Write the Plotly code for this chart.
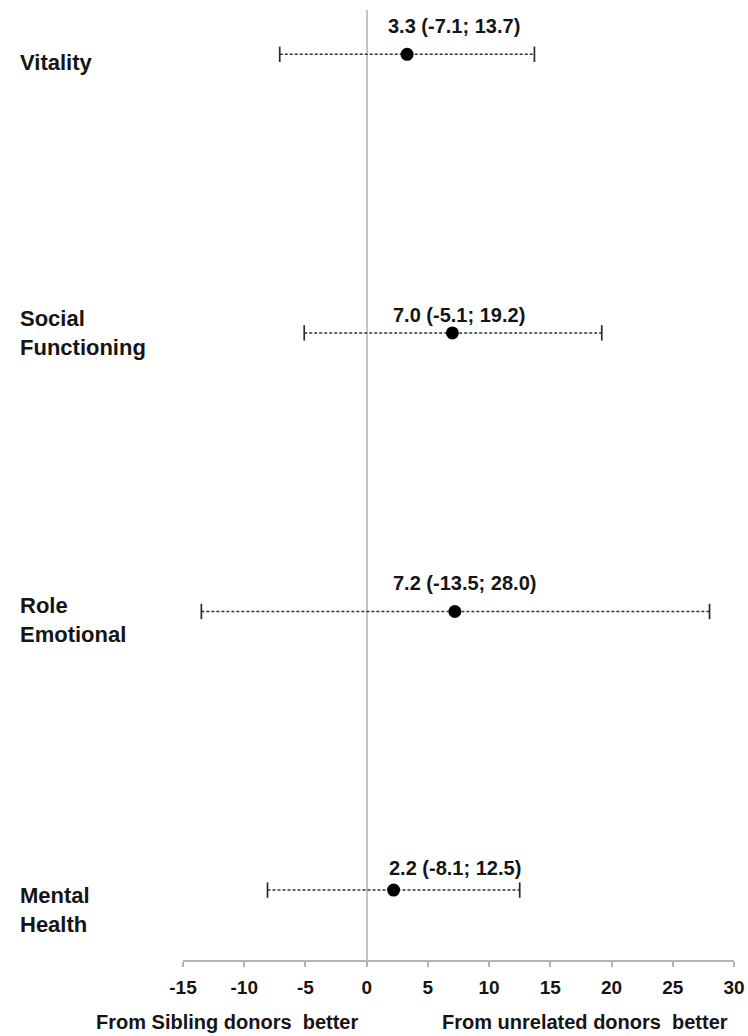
import plotly.graph_objects as go

# ---- data ----
outcomes = ["Vitality", "Social<br>Functioning", "Role<br>Emotional", "Mental<br>Health"]
row_pos = [4, 3, 2, 1]
estimate = [3.3, 7.0, 7.2, 2.2]
ci_low = [-7.1, -5.1, -13.5, -8.1]
ci_high = [13.7, 19.2, 28.0, 12.5]
tick_vals = [-15, -10, -5, 0, 5, 10, 15, 20, 25, 30]
tick_text = ["-15", "-10", "-5", "0", "5", "10", "15", "20", "25", "30"]
left_note = "From Sibling donors\u00a0 better"
right_note = "From unrelated donors\u00a0 better"

# ---- layout tweaks (pixel offsets, not data) ----
value_label_x = [1.6, 2.0, 2.0, 1.7]
value_label_shift = [28, 18, 28, 22]
name_label_shift = [-8, 0, -9, -20]

FONT = "Liberation Sans, Arial, Helvetica, sans-serif"
TXT = "#151515"

fig = go.Figure()

for i in range(len(outcomes)):
    fig.add_trace(go.Scatter(
        x=[ci_low[i], ci_high[i]], y=[row_pos[i], row_pos[i]],
        mode="lines+markers",
        line=dict(color="#333333", width=1.5, dash="3px,2px"),
        marker=dict(symbol="line-ns", size=11,
                    line=dict(color="#2a2a2a", width=1.7)),
        showlegend=False, hoverinfo="skip",
    ))

fig.add_trace(go.Scatter(
    x=estimate, y=row_pos, mode="markers",
    marker=dict(symbol="circle", size=13, color="#000000"),
    showlegend=False,
))

annotations = []
for i in range(len(outcomes)):
    annotations.append(dict(
        x=value_label_x[i], y=row_pos[i], xref="x", yref="y",
        text=f"{estimate[i]:.1f} ({ci_low[i]:.1f}; {ci_high[i]:.1f})",
        showarrow=False, xanchor="left", yanchor="middle",
        yshift=value_label_shift[i],
        font=dict(family=FONT, size=20, color=TXT, weight=700),
    ))
    annotations.append(dict(
        x=(18 - 183) / 551, y=row_pos[i], xref="paper", yref="y",
        text=outcomes[i], align="left",
        showarrow=False, xanchor="left", yanchor="middle",
        yshift=name_label_shift[i],
        font=dict(family=FONT, size=22, color=TXT, weight=700),
    ))

annotations.append(dict(
    x=(93.7 - 183) / 551, y=(960 - 1021.7) / 950, xref="paper", yref="paper",
    text=left_note, showarrow=False, xanchor="left", yanchor="middle",
    font=dict(family=FONT, size=20, color=TXT, weight=700),
))
annotations.append(dict(
    x=(440 - 183) / 551, y=(960 - 1021.7) / 950, xref="paper", yref="paper",
    text=right_note, showarrow=False, xanchor="left", yanchor="middle",
    font=dict(family=FONT, size=20, color=TXT, weight=700),
))

fig.update_layout(
    width=748, height=1036,
    margin=dict(l=183, r=14, t=10, b=76, autoexpand=False),
    paper_bgcolor="white", plot_bgcolor="white",
    annotations=annotations,
    xaxis=dict(
        range=[-15, 30], tickvals=tick_vals, ticktext=tick_text,
        automargin=False,
        showgrid=False, zeroline=True, zerolinecolor="#c4c4c4", zerolinewidth=1.6,
        showline=True, linecolor="#b4b4b4", linewidth=1.5,
        ticks="outside", ticklen=5, tickcolor="#b4b4b4", tickwidth=1.5,
        ticklabelstandoff=4,
        tickfont=dict(family=FONT, size=19, color=TXT, weight=700),
        fixedrange=True,
    ),
    yaxis=dict(range=[0.749, 4.159], visible=False, fixedrange=True, automargin=False),
)

fig.write_html("out.html")
